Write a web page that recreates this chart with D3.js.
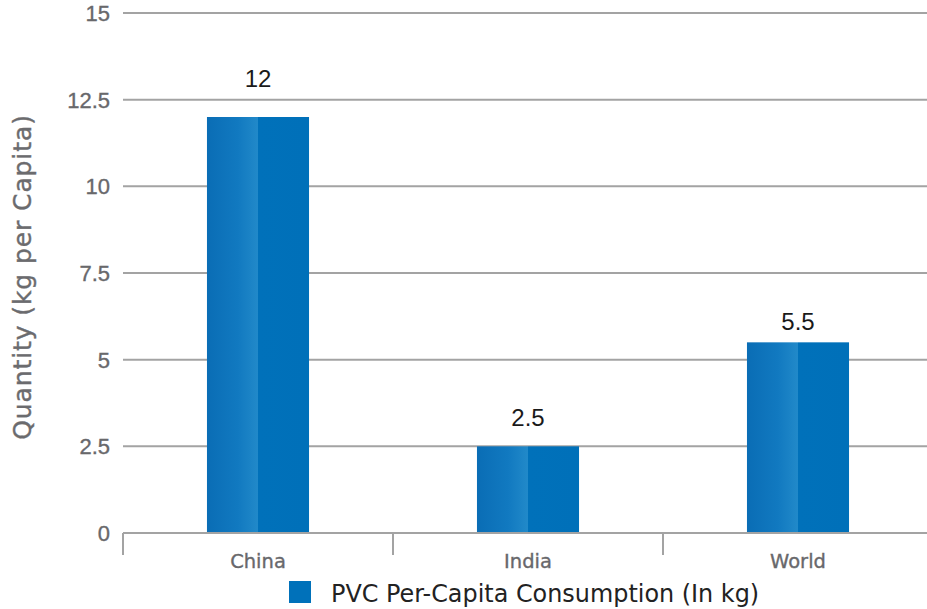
<!DOCTYPE html>
<html>
<head>
<meta charset="utf-8">
<script src="https://cdn.jsdelivr.net/npm/d3@7"></script>
<style>
  html, body { margin: 0; padding: 0; background: #fff; }
  svg { display: block; }
  .tick-label { font-family: "Liberation Sans", Arial, sans-serif; fill: #68686b; stroke: #68686b; stroke-width: 0.35px; }
  .cat-label { font-family: "DejaVu Sans", sans-serif; fill: #68686b; stroke: #68686b; stroke-width: 0.35px; }
</style>
</head>
<body>
<svg id="chart" width="927" height="609"></svg>
<script>
// PVC per-capita consumption, kg per person
const categories = ["China", "India", "World"];
const consumption = [12, 2.5, 5.5];
const yTicks = [0, 2.5, 5, 7.5, 10, 12.5, 15];
const seriesName = "PVC Per-Capita Consumption (In kg)";
const axisTitle = "Quantity (kg per Capita)";
// extra lift of each value label above its bar, px
const labelLift = [30, 20, 12];

const svg = d3.select("#chart");
const plotLeft = 123, plotRight = 933, plotTop = 13, plotBottom = 533;

const x = d3.scaleBand().domain(categories).range([plotLeft, plotRight]).padding(0);
const y = d3.scaleLinear().domain([0, 15]).range([plotBottom, plotTop]);
const barW = x.bandwidth() * 0.378;

// gradient for the bar face: shaded left half, flat right half
const defs = svg.append("defs");
const grad = defs.append("linearGradient").attr("id", "barGrad")
  .attr("x1", "0%").attr("x2", "100%").attr("y1", "0%").attr("y2", "0%");
grad.append("stop").attr("offset", "0%").attr("stop-color", "#0a6db5");
grad.append("stop").attr("offset", "30%").attr("stop-color", "#1179c0");
grad.append("stop").attr("offset", "49.5%").attr("stop-color", "#2189c9");
grad.append("stop").attr("offset", "50%").attr("stop-color", "#0071ba");
grad.append("stop").attr("offset", "100%").attr("stop-color", "#0070b9");

// horizontal gridlines (excluding the baseline)
svg.append("g").selectAll("line").data(yTicks.filter(d => d > 0)).join("line")
  .attr("x1", plotLeft).attr("x2", 927)
  .attr("y1", d => y(d)).attr("y2", d => y(d))
  .attr("stroke", "#a3a3a3").attr("stroke-width", 2);

// y tick labels
svg.append("g").selectAll("text").data(yTicks).join("text")
  .attr("class", "tick-label")
  .attr("x", 110).attr("y", d => y(d)).attr("dy", "0.36em")
  .attr("text-anchor", "end").attr("font-size", 22)
  .text(d => d);

// bars
svg.append("g").selectAll("rect").data(categories).join("rect")
  .attr("x", d => x(d) + (x.bandwidth() - barW) / 2)
  .attr("width", barW)
  .attr("y", (d, i) => y(consumption[i]))
  .attr("height", (d, i) => y(0) - y(consumption[i]))
  .attr("fill", "url(#barGrad)");

// x axis line and category separators
const xAxis = svg.append("g");
xAxis.append("line")
  .attr("x1", plotLeft).attr("x2", 927).attr("y1", plotBottom).attr("y2", plotBottom)
  .attr("stroke", "#a3a3a3").attr("stroke-width", 2);
xAxis.selectAll("line.sep").data(categories).join("line")
  .attr("class", "sep")
  .attr("x1", d => x(d)).attr("x2", d => x(d))
  .attr("y1", plotBottom).attr("y2", plotBottom + 22)
  .attr("stroke", "#a3a3a3").attr("stroke-width", 2);
xAxis.selectAll("text").data(categories).join("text")
  .attr("class", "cat-label")
  .attr("x", d => x(d) + x.bandwidth() / 2)
  .attr("y", 568)
  .attr("text-anchor", "middle").attr("font-size", 19.5)
  .text(d => d);

// value labels
svg.append("g").selectAll("text").data(categories).join("text")
  .attr("x", d => x(d) + x.bandwidth() / 2)
  .attr("y", (d, i) => y(consumption[i]) - labelLift[i])
  .attr("text-anchor", "middle")
  .attr("font-family", "'Liberation Sans', Arial, sans-serif").attr("font-size", 24)
  .attr("fill", "#1a1a1a")
  .text((d, i) => consumption[i]);

// y axis title
svg.append("text")
  .attr("transform", `translate(31,${(plotTop + plotBottom) / 2 + 4}) rotate(-90)`)
  .attr("text-anchor", "middle")
  .attr("font-family", "'DejaVu Sans', sans-serif").attr("font-size", 25)
  .attr("letter-spacing", 0.9)
  .attr("fill", "#6b6b6e").attr("stroke", "#6b6b6e").attr("stroke-width", 0.4)
  .text(axisTitle);

// legend
const legend = svg.append("g").attr("transform", "translate(289,581)");
legend.append("rect").attr("width", 22).attr("height", 22).attr("fill", "#0071ba");
legend.append("text").attr("x", 42).attr("y", 21)
  .attr("font-family", "'DejaVu Sans', sans-serif").attr("font-size", 23.9)
  .attr("fill", "#222")
  .text(seriesName);
</script>
</body>
</html>
